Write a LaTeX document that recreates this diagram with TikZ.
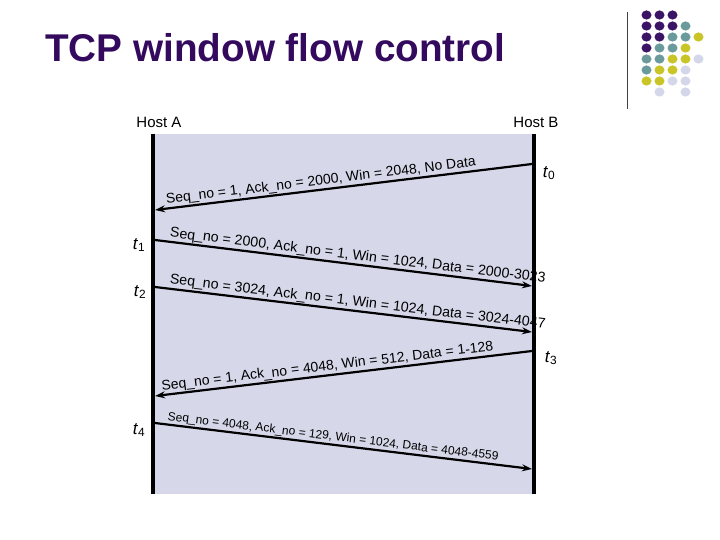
\documentclass[tikz,border=0pt]{standalone}
\usepackage{fontspec}
\setmainfont{Liberation Sans}
\usetikzlibrary{arrows.meta,positioning}
\definecolor{titlepurple}{HTML}{330A5E}
\definecolor{dotpurple}{HTML}{3B1466}
\definecolor{dotteal}{HTML}{6B9A9C}
\definecolor{dotyellow}{HTML}{C9C526}
\definecolor{dotlilac}{HTML}{D4D6EA}
\definecolor{lanefill}{HTML}{D6D8EA}

\begin{document}
\begin{tikzpicture}[x=1pt,y=-1pt,
  host/.style={line width=4pt},
  msg/.style={line width=2.2pt,-{Stealth[length=10pt,width=7pt]}},
  lbl/.style={sloped,above,inner sep=0.8pt},
  tick/.style={font=\fontsize{17}{19}\selectfont}]
  \useasboundingbox (0,0) rectangle (720,540);
  % title and logo
  \node[anchor=base west,inner sep=0pt,text=titlepurple,font=\fontsize{38.7}{44}\selectfont\bfseries] (title) at (45,62) {TCP window flow control};
  \coordinate (logotop) at (627,12);
  \coordinate (logobot) at (627,109);
  \draw[black!75,line width=1pt] (logotop) -- (logobot);
  \foreach \r/\cols in {0/{0,1,2},1/{0,1,2,3},2/{0,1,2,3,4},3/{0,1,2,3},4/{0,1,2,3,4},5/{0,1,2,3},6/{0,1,2,3},7/{1,3}}
    \foreach \c in \cols {
      \pgfmathtruncatemacro\s{\r+\c}
      \ifnum\s<4 \def\dc{dotpurple}\else\ifnum\s<6 \def\dc{dotteal}\else\ifnum\s<8 \def\dc{dotyellow}\else\def\dc{dotlilac}\fi\fi\fi
      \fill[\dc] (646.5+13*\c,15+11*\r) ellipse [x radius=5,y radius=4.6];
    }
  % the two hosts
  \coordinate (atop) at (153,134);
  \coordinate (abot) at (153,494);
  \coordinate (btop) at (534,134);
  \coordinate (bbot) at (534,494);
  \fill[lanefill] (atop) rectangle (bbot);
  \draw[host] (atop) -- (abot);
  \draw[host] (btop) -- (bbot);
  \node[anchor=base,font=\fontsize{15}{17}\selectfont] (hosta) at (159,128) {Host A};
  \node[anchor=base,font=\fontsize{15}{17}\selectfont] (hostb) at (536,128) {Host B};
  % segments
  \coordinate (b0) at (532,164);
  \coordinate (a0) at (155,210);
  \coordinate (a1) at (155,240);
  \coordinate (b1) at (532,286);
  \coordinate (a2) at (155,287);
  \coordinate (b2) at (532,332);
  \coordinate (b3) at (532,351);
  \coordinate (a3) at (155,396);
  \coordinate (a4) at (155,423);
  \coordinate (b4) at (532,469);
  \draw[msg] (b0) -- node[lbl,pos=0.557,font=\fontsize{14}{16}\selectfont] {Seq\_no = 1, Ack\_no = 2000, Win = 2048, No Data} (a0);
  \draw[msg] (a1) -- node[lbl,pos=0.535,font=\fontsize{14.2}{16}\selectfont] {Seq\_no = 2000, Ack\_no = 1, Win = 1024, Data = 2000-3023} (b1);
  \draw[msg] (a2) -- node[lbl,pos=0.535,font=\fontsize{14.2}{16}\selectfont] {Seq\_no = 3024, Ack\_no = 1, Win = 1024, Data = 3024-4047} (b2);
  \draw[msg] (b3) -- node[lbl,pos=0.54,font=\fontsize{14}{16}\selectfont] {Seq\_no = 1, Ack\_no = 4048, Win = 512, Data = 1-128} (a3);
  \draw[msg] (a4) -- node[lbl,pos=0.47,font=\fontsize{12}{14}\selectfont] {Seq\_no = 4048, Ack\_no = 129, Win = 1024, Data = 4048-4559} (b4);
  % times
  \node[tick] (t0) at (549,173) {\textit{t}\textsubscript{0}};
  \node[tick] (t1) at (139,245) {\textit{t}\textsubscript{1}};
  \node[tick] (t2) at (140,292) {\textit{t}\textsubscript{2}};
  \node[tick] (t3) at (551,358) {\textit{t}\textsubscript{3}};
  \node[tick] (t4) at (139,430) {\textit{t}\textsubscript{4}};
\end{tikzpicture}
\end{document}
